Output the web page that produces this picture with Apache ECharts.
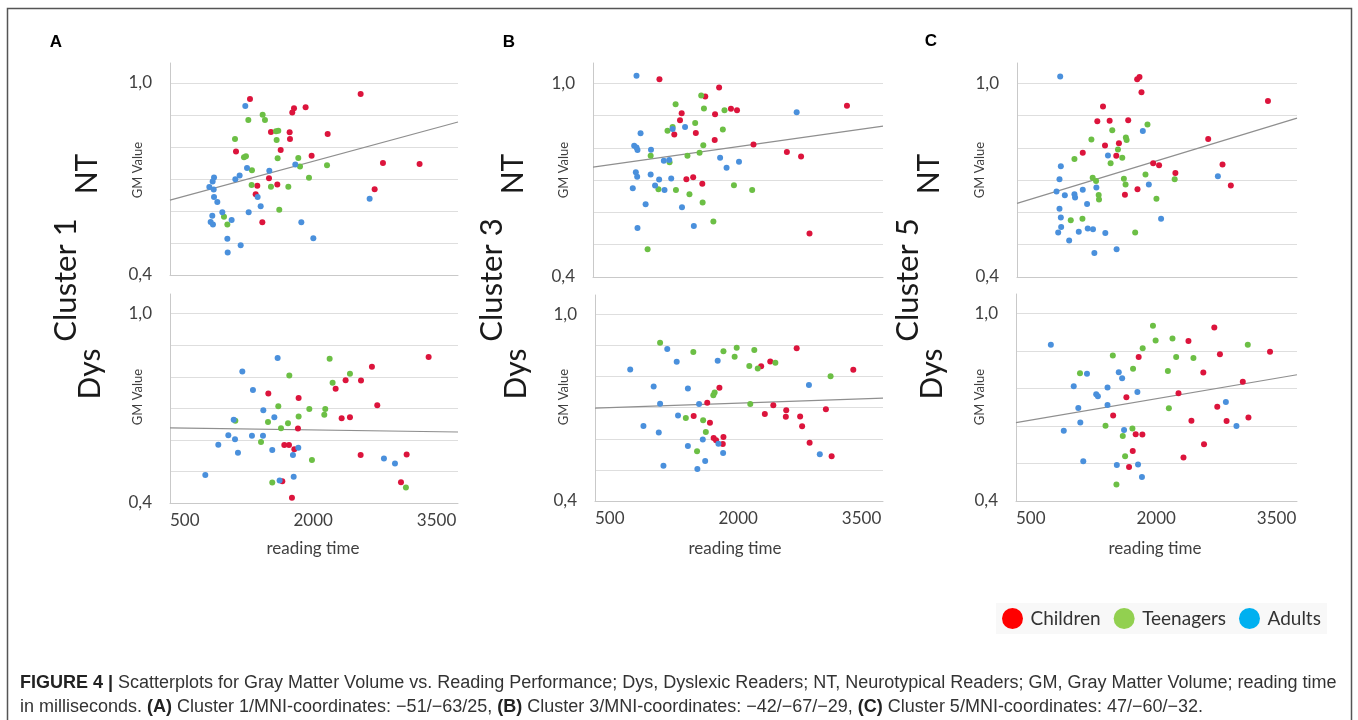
<!DOCTYPE html>
<html>
<head>
<meta charset="utf-8">
<script src="https://cdn.jsdelivr.net/npm/echarts@6/dist/echarts.min.js"></script>
<style>
  html, body { margin: 0; padding: 0; background: #fff; }
  #chart { width: 1358px; height: 720px; }
</style>
</head>
<body>
<div id="chart"></div>
<script>
// Cluster 1, neurotypical readers  [reading time, GM value]
const aNtChildren = [[1472,0.950],[2817,0.966],[2007,0.921],[1986,0.908],[2148,0.924],[1727,0.847],[1954,0.846],[1958,0.825],[2416,0.841],[1302,0.786],[1845,0.791],[2221,0.773],[3088,0.750],[3533,0.747],[1703,0.702],[1804,0.683],[1561,0.679],[2987,0.668],[1541,0.652],[1622,0.565]];
const aNtTeens = [[1626,0.901],[1654,0.884],[1452,0.884],[1290,0.825],[1796,0.822],[1788,0.849],[1816,0.851],[1399,0.768],[1423,0.771],[1808,0.765],[2059,0.766],[2080,0.739],[2408,0.743],[1496,0.727],[2189,0.704],[1492,0.681],[1727,0.676],[1938,0.676],[1828,0.604],[1156,0.582],[1197,0.558]];
const aNtAdults = [[1415,0.928],[2023,0.745],[1436,0.734],[1707,0.726],[1346,0.711],[1294,0.699],[1035,0.705],[1018,0.692],[978,0.675],[1031,0.667],[1035,0.644],[1075,0.628],[1565,0.644],[1602,0.615],[1456,0.596],[2926,0.638],[1136,0.596],[1014,0.585],[994,0.566],[1022,0.558],[1249,0.572],[2096,0.565],[2242,0.515],[1197,0.513],[1359,0.493],[1201,0.470]];
const aNtTrend = [[500,0.634],[4000,0.878]];

// Cluster 1, dyslexic readers
const aDysChildren = [[3643,0.863],[2954,0.832],[2634,0.789],[2821,0.788],[2513,0.762],[1695,0.747],[2063,0.733],[3019,0.710],[2586,0.669],[2687,0.672],[2055,0.636],[1889,0.584],[1946,0.584],[2011,0.570],[2817,0.552],[3376,0.554],[1865,0.469],[3307,0.466],[1982,0.417],[3108,0.395]];
const aDysTeens = [[2440,0.857],[1950,0.804],[2687,0.810],[2476,0.781],[1816,0.707],[2193,0.698],[2387,0.698],[2375,0.680],[2063,0.674],[1691,0.657],[1294,0.661],[1934,0.653],[1849,0.637],[1606,0.593],[2225,0.536],[1743,0.465],[3367,0.449]];
const aDysAdults = [[1808,0.860],[1379,0.817],[1508,0.758],[1634,0.694],[1768,0.672],[1274,0.664],[1209,0.615],[1496,0.613],[1630,0.613],[1290,0.602],[1087,0.585],[1326,0.559],[1743,0.568],[2059,0.575],[1994,0.552],[3100,0.541],[3234,0.525],[929,0.489],[2003,0.483],[1832,0.471]];
const aDysTrend = [[500,0.638],[4000,0.625]];

// Cluster 3, neurotypical readers
const bNtChildren = [[1302,1.012],[2022,0.987],[1855,0.959],[3565,0.930],[2165,0.921],[2238,0.916],[1570,0.907],[1973,0.904],[1550,0.885],[1741,0.846],[1481,0.841],[1969,0.824],[2437,0.810],[2840,0.787],[3011,0.773],[1627,0.703],[1709,0.709],[1819,0.689],[3113,0.535]];
const bNtTeens = [[1806,0.962],[1497,0.935],[1839,0.922],[2087,0.916],[1733,0.877],[1399,0.853],[1461,0.864],[2067,0.857],[1831,0.808],[1786,0.785],[1640,0.775],[1196,0.775],[1424,0.755],[2201,0.684],[2421,0.669],[1290,0.672],[1501,0.669],[1664,0.656],[1823,0.631],[1953,0.572],[1159,0.486]];
const bNtAdults = [[1025,1.023],[2958,0.910],[1611,0.864],[1461,0.858],[1074,0.845],[997,0.806],[1025,0.801],[1037,0.793],[1200,0.794],[1355,0.760],[1420,0.762],[2034,0.769],[2262,0.757],[2112,0.738],[1017,0.724],[1033,0.710],[1196,0.717],[1298,0.702],[1444,0.705],[980,0.675],[1249,0.683],[1363,0.669],[1135,0.625],[1574,0.616],[1037,0.552],[1717,0.558]];
const bNtTrend = [[500,0.740],[4000,0.867]];

// Cluster 3, dyslexic readers
const bDysChildren = [[2951,0.891],[3639,0.822],[2630,0.849],[2519,0.833],[2012,0.764],[1864,0.716],[1699,0.673],[1897,0.652],[1942,0.603],[1971,0.595],[2061,0.606],[2053,0.583],[2667,0.708],[2564,0.680],[2824,0.692],[2819,0.671],[2993,0.672],[3017,0.640],[3306,0.695],[3108,0.587],[3376,0.544]];
const bDysTeens = [[1291,0.909],[1695,0.879],[2061,0.882],[2222,0.893],[2436,0.886],[2197,0.864],[2375,0.834],[2478,0.826],[2692,0.845],[3363,0.801],[1954,0.749],[1938,0.740],[2387,0.712],[1604,0.667],[1814,0.660],[1847,0.622],[1740,0.560]];
const bDysAdults = [[1378,0.889],[1493,0.848],[1991,0.851],[928,0.823],[1213,0.768],[1629,0.762],[1291,0.713],[1765,0.712],[3100,0.773],[1509,0.675],[1089,0.641],[1275,0.620],[1810,0.598],[1629,0.577],[2000,0.584],[2057,0.554],[3232,0.550],[1839,0.529],[1332,0.513],[1744,0.503]];
const bDysTrend = [[500,0.699],[4000,0.731]];

// Cluster 5, neurotypical readers
const cNtChildren = [[2002,1.012],[2031,1.019],[2056,0.972],[3637,0.945],[1575,0.928],[1504,0.882],[1658,0.884],[1890,0.885],[1774,0.814],[1600,0.807],[1322,0.785],[1741,0.775],[2890,0.827],[2202,0.752],[2276,0.746],[2480,0.722],[3069,0.748],[3173,0.683],[2006,0.672],[1849,0.655]];
const cNtTeens = [[2131,0.872],[1691,0.854],[1430,0.826],[1861,0.832],[1870,0.824],[1762,0.795],[1816,0.769],[1218,0.765],[1670,0.752],[2106,0.717],[1446,0.707],[1488,0.697],[1836,0.704],[1857,0.686],[2471,0.703],[1521,0.654],[1525,0.640],[2243,0.642],[1172,0.576],[1318,0.580],[1977,0.538]];
const cNtAdults = [[1040,1.021],[2073,0.852],[1637,0.776],[1048,0.743],[1031,0.703],[3011,0.712],[994,0.665],[1098,0.653],[1218,0.656],[1226,0.646],[1322,0.670],[1492,0.677],[2148,0.686],[1376,0.626],[1031,0.611],[1048,0.584],[2301,0.580],[1052,0.555],[1015,0.538],[1272,0.540],[1384,0.550],[1450,0.548],[1604,0.536],[1152,0.513],[1467,0.474],[1745,0.486]];
const cNtTrend = [[500,0.628],[4000,0.892]];

// Cluster 5, dyslexic readers
const cDysChildren = [[2970,0.955],[2648,0.912],[3664,0.878],[3040,0.870],[2028,0.861],[2833,0.811],[3325,0.782],[2524,0.745],[1875,0.732],[3007,0.702],[1710,0.674],[2685,0.657],[3123,0.656],[3395,0.667],[1991,0.614],[2074,0.613],[2842,0.582],[1954,0.560],[2586,0.539],[1908,0.509]];
const cDysTeens = [[2206,0.961],[2239,0.914],[2449,0.920],[3387,0.900],[2078,0.889],[1706,0.866],[2495,0.861],[2710,0.858],[1958,0.823],[2392,0.816],[1297,0.809],[2404,0.697],[1615,0.641],[1950,0.632],[1830,0.608],[1859,0.543],[1751,0.453]];
const cDysAdults = [[934,0.900],[1384,0.807],[1780,0.812],[1822,0.793],[1219,0.767],[1640,0.763],[1499,0.742],[1520,0.735],[2012,0.749],[1640,0.707],[1276,0.698],[3114,0.717],[1301,0.651],[3246,0.640],[1095,0.625],[1846,0.627],[1338,0.527],[1756,0.515],[2020,0.517],[2069,0.477]];
const cDysTrend = [[500,0.651],[4000,0.804]];

const xTicks = [500, 2000, 3500];
const yTickLabels = { '0.4': '0,4', '1': '1,0' };
const groupNames = ['Children', 'Teenagers', 'Adults'];

const dotColors = ['#dc143c', '#6cbf45', '#4a90dc'];
const legendColors = ['#ff0000', '#92d050', '#00b0f0'];
const chartFont = 'Lato';

const panels = [
  { box: {left: 170, top: 63, width: 288, height: 212}, sets: [aNtChildren, aNtTeens, aNtAdults], trend: aNtTrend, bottom: false, step: 0.1 },
  { box: {left: 170, top: 294, width: 288, height: 209}, sets: [aDysChildren, aDysTeens, aDysAdults], trend: aDysTrend, bottom: true, step: 0.1 },
  { box: {left: 593, top: 63, width: 290, height: 214}, sets: [bNtChildren, bNtTeens, bNtAdults], trend: bNtTrend, bottom: false, step: 0.1 },
  { box: {left: 595, top: 295, width: 288, height: 206}, sets: [bDysChildren, bDysTeens, bDysAdults], trend: bDysTrend, bottom: true, step: 0.1 },
  { box: {left: 1017, top: 63, width: 280, height: 214}, sets: [cNtChildren, cNtTeens, cNtAdults], trend: cNtTrend, bottom: false, step: 0.1 },
  { box: {left: 1016, top: 294, width: 281, height: 207}, sets: [cDysChildren, cDysTeens, cDysAdults], trend: cDysTrend, bottom: true, step: 0.12 }
];

const grids = [], xAxes = [], yAxes = [], series = [];
panels.forEach((p, i) => {
  grids.push(Object.assign({ outerBoundsMode: 'none' }, p.box));
  xAxes.push({
    type: 'value', gridIndex: i, min: 500, max: 4000, interval: 1500,
    axisLine: { show: true, onZero: false, lineStyle: { color: '#c9c9c9', width: 1 } },
    axisTick: { show: false },
    splitLine: { show: false },
    axisLabel: {
      show: p.bottom, showMaxLabel: false, align: 'left', margin: 9,
      fontFamily: chartFont, fontSize: 17, color: '#404040',
      formatter: v => xTicks.indexOf(v) >= 0 ? String(v) : ''
    }
  });
  yAxes.push({
    type: 'value', gridIndex: i, min: 0.4, max: 1.0625, interval: p.step,
    axisLine: { show: true, lineStyle: { color: '#c9c9c9', width: 1 } },
    axisTick: { show: false },
    splitLine: { show: true, showMinLine: false, showMaxLine: false, lineStyle: { color: '#dedede', width: 1 } },
    axisLabel: {
      margin: 18, fontFamily: chartFont, fontSize: 17, color: '#404040',
      showMaxLabel: false,
      formatter: v => Math.abs(v - 1) < 1e-6 ? yTickLabels['1'] : (Math.abs(v - 0.4) < 1e-6 ? yTickLabels['0.4'] : '')
    }
  });
  series.push({
    type: 'line', xAxisIndex: i, yAxisIndex: i, data: p.trend, showSymbol: false, silent: true,
    lineStyle: { color: '#8f8f8f', width: 1.2 }, z: 1
  });
  p.sets.forEach((d, k) => {
    series.push({
      name: groupNames[k], type: 'scatter', xAxisIndex: i, yAxisIndex: i, data: d,
      symbolSize: 6, itemStyle: { color: dotColors[k], opacity: 1 }, z: 3
    });
  });
});

const sideText = (txt, x, y, size, color) => ({
  type: 'text', x: x, y: y, rotation: Math.PI / 2,
  style: { text: txt, font: size + 'px ' + chartFont, fill: color || '#1a1a1a',
    textAlign: 'center', align: 'center', textVerticalAlign: 'middle', verticalAlign: 'middle' }
});
const plainText = (txt, x, y, font, color) => ({
  type: 'text', x: x, y: y,
  style: { text: txt, font: font, fill: color,
    textAlign: 'center', align: 'center', textVerticalAlign: 'middle', verticalAlign: 'middle' }
});

const graphics = [
  { type: 'rect', shape: { x: 7.5, y: 8.5, width: 1344, height: 740 }, style: { fill: 'none', stroke: '#555', lineWidth: 1.5 }, silent: true },
  plainText('A', 56, 42, 'bold 17px "Liberation Sans"', '#000'),
  plainText('B', 509, 42, 'bold 17px "Liberation Sans"', '#000'),
  plainText('C', 931, 41, 'bold 17px "Liberation Sans"', '#000')
];
const clusters = ['Cluster 1', 'Cluster 3', 'Cluster 5'];
[0, 426, 842].forEach((dx, j) => {
  graphics.push(sideText(clusters[j], 66 + dx, 280, 31));
  graphics.push(sideText('NT', 87 + dx, 174, 30));
  graphics.push(sideText('Dys', 90 + dx, 374, 30));
  graphics.push(sideText('GM Value', 138 + dx, 170, 13, '#404040'));
  graphics.push(sideText('GM Value', 138 + dx, 397, 13, '#404040'));
});
[313, 735, 1155].forEach(cx => graphics.push(plainText('reading time', cx, 549, '17px ' + chartFont, '#404040')));

const captionRich = { b: { fontWeight: 'bold', fontSize: 18, fontFamily: 'Liberation Sans', fill: '#222' } };
graphics.push({
  type: 'text', x: 20, y: 683,
  style: {
    text: '{b|FIGURE 4 |} Scatterplots for Gray Matter Volume vs. Reading Performance; Dys, Dyslexic Readers; NT, Neurotypical Readers; GM, Gray Matter Volume; reading time',
    font: '18px "Liberation Sans"', fill: '#333', textVerticalAlign: 'middle', verticalAlign: 'middle',
    rich: captionRich
  }
});
graphics.push({
  type: 'text', x: 20, y: 707,
  style: {
    text: 'in milliseconds. {b|(A)} Cluster 1/MNI-coordinates: \u221251/\u221263/25, {b|(B)} Cluster 3/MNI-coordinates: \u221242/\u221267/\u221229, {b|(C)} Cluster 5/MNI-coordinates: 47/\u221260/\u221232.',
    font: '18px "Liberation Sans"', fill: '#333', textVerticalAlign: 'middle', verticalAlign: 'middle',
    rich: captionRich
  }
});

const myChart = echarts.init(document.getElementById('chart'), null, { renderer: 'canvas' });
const option = {
  animation: false,
  backgroundColor: '#fff',
  grid: grids,
  xAxis: xAxes,
  yAxis: yAxes,
  series: series,
  legend: {
    left: 996, top: 603, icon: 'circle', itemWidth: 26, itemHeight: 21, itemGap: 13,
    backgroundColor: '#f8f8f8', padding: [5, 6],
    textStyle: { fontFamily: chartFont, fontSize: 19, color: '#333' },
    selectedMode: false,
    data: groupNames.map((n, k) => ({ name: n, itemStyle: { color: legendColors[k] } }))
  },
  graphic: graphics
};
myChart.setOption(option);
</script>
</body>
</html>
